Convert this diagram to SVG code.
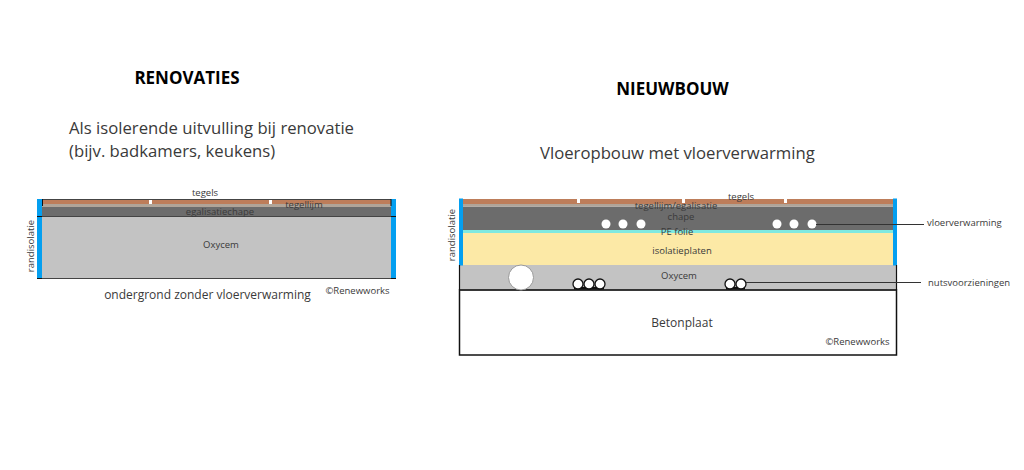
<svg xmlns="http://www.w3.org/2000/svg" width="1024" height="470" viewBox="0 0 1024 470">
<style>
text{font-family:"Open Sans","Noto Sans","DejaVu Sans",sans-serif;fill:#3a3a3a;font-size:9.500px;text-anchor:middle}
.title{font-weight:700;font-size:17px;fill:#000}
.big{font-size:16.700px;text-anchor:start}
.mid{font-size:12px}
.lab{font-size:9.500px;text-anchor:start}
.pipe{fill:#fff;stroke:#111;stroke-width:1.300}
.heat{fill:#fff}
.blue{fill:#049ff0}
.brown{fill:#bd7d5a}
.tan{fill:#b0a498}
.dark{fill:#6c6c6c}
.gray{fill:#c3c3c3}
.lead{stroke:#333;stroke-width:1;fill:none}
</style>
<g id="renovaties">
<rect class="gray" x="37" y="217" width="359" height="61"/>
<rect class="dark" x="37" y="207" width="359" height="9"/>
<rect class="tan" x="37" y="204" width="359" height="3"/>
<rect class="brown" x="37" y="200" width="359" height="4"/>
<path d="M37 199.500H396M37 216.500H396M37 278.500H396" stroke="#444" fill="none"/>
<rect x="149" y="200" width="3" height="4" fill="#fff"/><rect x="269" y="200" width="3" height="4" fill="#fff"/>
<rect class="blue" x="37" y="199" width="5" height="79"/>
<rect class="blue" x="391" y="199" width="5" height="79"/>
<path d="M42.500 199V206M391 199V206M37 216.500H42M391 216.500H396M37 278.500H42M391 278.500H396" stroke="#111" fill="none"/>
</g>
<g id="nieuwbouw">
<rect x="459.500" y="290" width="437" height="65" fill="#fff" stroke="#111" stroke-width="1.500"/>
<rect class="gray" x="460" y="265" width="436" height="24"/>
<rect x="460" y="289" width="436" height="1.800" fill="#333"/>
<rect x="460" y="233" width="436" height="32" fill="#fce9a6"/>
<rect x="460" y="230" width="436" height="3" fill="#7fe9e0"/>
<rect class="dark" x="460" y="206.500" width="436" height="23.500"/>
<rect class="tan" x="460" y="204" width="436" height="2.500"/>
<rect class="brown" x="460" y="199" width="436" height="5"/>
<rect x="577" y="199" width="3" height="4" fill="#fff"/><rect x="682" y="199" width="3" height="4" fill="#fff"/><rect x="784" y="199" width="3" height="4" fill="#fff"/>
<rect class="blue" x="459" y="198.500" width="4" height="67"/>
<rect class="blue" x="893" y="198.500" width="4" height="67"/>
<path d="M459.500 265V290M896.500 265V290" stroke="#111" stroke-width="1.200"/>
<circle cx="521" cy="277.500" r="12.500" fill="#fff" stroke="#999"/>
</g>
<g id="heating">
<circle class="heat" cx="606" cy="224" r="4.500"/><circle class="heat" cx="623" cy="224" r="4.500"/><circle class="heat" cx="641" cy="224" r="4.500"/>
<circle class="heat" cx="777" cy="224" r="4.500"/><circle class="heat" cx="794" cy="224" r="4.500"/><circle class="heat" cx="812" cy="224" r="4.500"/>
</g>
<g id="pipes">
<rect x="574" y="287" width="30" height="2.500" fill="#111"/><rect x="726" y="287" width="19" height="2.500" fill="#111"/>
<circle class="pipe" cx="578" cy="284" r="5"/><circle class="pipe" cx="589" cy="284" r="5"/><circle class="pipe" cx="600" cy="284" r="5"/>
<circle class="pipe" cx="730" cy="284" r="5"/><circle class="pipe" cx="741" cy="284" r="5"/>
</g>
<g id="connectors">
<path class="lead" d="M816 224.500H924M746 282.500H921"/>
</g>
<g id="labels">
<text class="title" x="187" y="84">RENOVATIES</text>
<text class="title" x="672.500" y="95">NIEUWBOUW</text>
<text class="big" x="69" y="134">Als isolerende uitvulling bij renovatie</text>
<text class="big" x="69" y="157">(bijv. badkamers, keukens)</text>
<text class="big" x="540" y="159">Vloeropbouw met vloerverwarming</text>
<text x="205" y="196">tegels</text>
<text x="304" y="208">tegellijm</text>
<text x="220" y="215">egalisatiechape</text>
<text x="221" y="248">Oxycem</text>
<text class="mid" x="207.500" y="298.500">ondergrond zonder vloerverwarming</text>
<text x="357.500" y="294">©Renewworks</text>
<text transform="translate(34 246) rotate(-90)">randisolatie</text>
<text x="741" y="200">tegels</text>
<text x="676" y="209">tegellijm/egalisatie</text>
<text x="681" y="220">chape</text>
<text x="677" y="235">PE folie</text>
<text x="682" y="254">isolatieplaten</text>
<text x="679" y="279">Oxycem</text>
<text class="mid" x="682" y="327">Betonplaat</text>
<text x="857.500" y="345">©Renewworks</text>
<text transform="translate(455 235) rotate(-90)">randisolatie</text>
<text class="lab" x="927" y="226">vloerverwarming</text>
<text class="lab" x="928" y="286">nutsvoorzieningen</text>
</g>
</svg>
